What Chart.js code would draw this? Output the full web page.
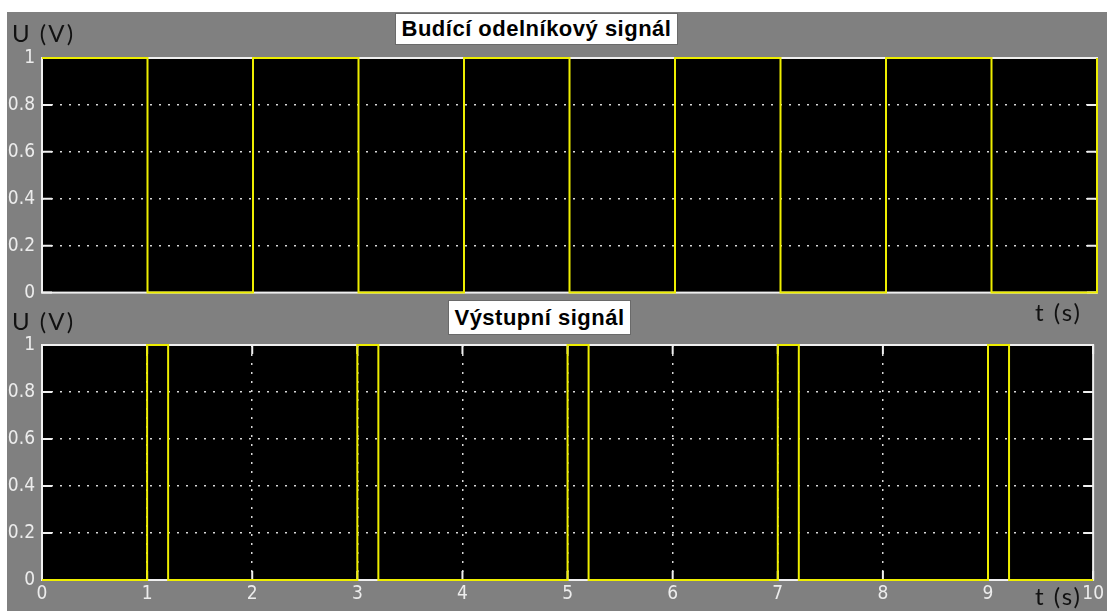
<!DOCTYPE html>
<html>
<head>
<meta charset="utf-8">
<script src="https://cdn.jsdelivr.net/npm/chart.js@4/dist/chart.umd.min.js"></script>
<style>
  html, body { margin: 0; padding: 0; background: #fff; }
  #stage { position: relative; width: 1107px; height: 611px; overflow: hidden; }
  #bg { position: absolute; left: 7px; top: 12px; right: 0; bottom: 0; background: #808080; }
  canvas { position: absolute; left: 0; }
  .lbl { position: absolute; font-family: Lato, 'Open Sans', sans-serif; font-size: 24px; line-height: 24px;
         letter-spacing: 2px; color: #111; white-space: nowrap; }
  .ttl { position: absolute; background: #fff; border: 1px solid #6a6a6a; box-sizing: border-box;
         font-family: 'Liberation Sans', Arial, sans-serif; font-weight: bold; font-size: 22px; letter-spacing: 0.5px;
         color: #000; text-align: center; white-space: nowrap; }
</style>
</head>
<body>
<div id="stage">
  <div id="bg"></div>
  <canvas id="vstup" width="1107" height="311" style="top:0"></canvas>
  <canvas id="vystup" width="1107" height="311" style="top:300px"></canvas>
  <div class="ttl" style="left:395px; top:13px; width:283px; height:32px; line-height:30px;">Budící odelníkový signál</div>
  <div class="ttl" style="left:448px; top:300px; width:183px; height:35px; line-height:33px;">Výstupní signál</div>
  <div class="lbl" style="left:12px; top:21px;">U (V)</div>
  <div class="lbl" style="left:12px; top:309px;">U (V)</div>
  <div class="lbl" style="left:1035px; top:300px;">t (s)</div>
  <div class="lbl" style="left:1035px; top:584px;">t (s)</div>
</div>
<script>
// budici obdelnikovy signal (hodnoty v bodech zmeny, kresleno schodovite)
const vstupT = [0, 1, 2, 3, 4, 5, 6, 7, 8, 9, 10];
const vstupU = [1, 0, 1, 0, 1, 0, 1, 0, 1, 0, 1];

// vystupni signal - kratke pulzy po nabezne hrane
const vystupT = [0, 1, 1.2, 3, 3.2, 5, 5.2, 7, 7.2, 9, 9.2, 10];
const vystupU = [0, 1, 0, 1, 0, 1, 0, 1, 0, 1, 0, 0];

const uTicks = ['0', '0.2', '0.4', '0.6', '0.8', '1'];
const tTicks = ['0', '1', '2', '3', '4', '5', '6', '7', '8', '9', '10'];

const ZLUTA = '#eeee00';
const RAM = '#f0f0f0';
const TEXT = '#ececec';
const tickFont = { family: "'DejaVu Sans Condensed', 'Liberation Sans Narrow', 'DejaVu Sans', sans-serif", size: 19 };

// cerne pozadi grafu, ramecek a kratke znacky dovnitr (jako v matlabu)
const ramecek = {
  id: 'ramecek',
  beforeDraw(chart) {
    const a = chart.chartArea, ctx = chart.ctx;
    ctx.save();
    ctx.fillStyle = '#000';
    ctx.fillRect(a.left, a.top, a.right - a.left, a.bottom - a.top);
    ctx.restore();
  },
  beforeDatasetsDraw(chart, args, opts) {
    const a = chart.chartArea, ctx = chart.ctx;
    ctx.save();
    ctx.strokeStyle = RAM;
    ctx.lineWidth = 2;
    ctx.strokeRect(a.left, a.top, a.right - a.left, a.bottom - a.top);
    ctx.beginPath();
    const y = chart.scales.y;
    y.ticks.forEach(t => {
      const py = y.getPixelForValue(t.value);
      ctx.moveTo(a.left, py); ctx.lineTo(a.left + 10, py);
      ctx.moveTo(a.right, py); ctx.lineTo(a.right - 10, py);
    });
    if (opts.xZnacky) {
      const x = chart.scales.x;
      x.ticks.forEach(t => {
        const px = x.getPixelForValue(t.value);
        ctx.moveTo(px, a.bottom); ctx.lineTo(px, a.bottom - 9);
        ctx.moveTo(px, a.top); ctx.lineTo(px, a.top + 9);
      });
    }
    ctx.stroke();
    ctx.restore();
  }
};

function osaU() {
  return {
    min: 0, max: 1,
    afterFit(scale) { scale.width = 42; },
    ticks: {
      stepSize: 0.2, color: TEXT, font: tickFont, padding: 7,
      callback: (v, i) => uTicks[i]
    },
    grid: {
      drawTicks: false,
      color: ctx => (ctx.tick && (ctx.tick.value === 0 || ctx.tick.value === 1)) ? 'rgba(0,0,0,0)' : '#d8d8d8',
      lineWidth: 1.5
    },
    border: { display: false, dash: [2, 7] }
  };
}

// stepped 'before' = nejdriv vodorovne, pak svisle na novou hodnotu
function signal(ts, us) {
  return {
    data: ts.map((t, i) => ({ x: t, y: us[i] })),
    borderColor: ZLUTA,
    borderWidth: 2,
    stepped: 'before',
    pointRadius: 0,
    clip: 3
  };
}

new Chart(document.getElementById('vstup'), {
  type: 'line',
  data: { datasets: [signal(vstupT, vstupU)] },
  options: {
    responsive: false,
    animation: false,
    devicePixelRatio: 1,
    layout: { padding: { top: 58, right: 10, bottom: 0, left: 0 } },
    plugins: { legend: { display: false }, tooltip: { enabled: false }, ramecek: { xZnacky: false } },
    scales: {
      // horni graf nema popisky casu, osa jen drzi misto dole
      x: {
        type: 'linear', min: 0, max: 10,
        afterFit(scale) { scale.height = 18; },
        ticks: { display: false },
        grid: { display: false },
        border: { display: false }
      },
      y: osaU()
    }
  },
  plugins: [ramecek]
});

new Chart(document.getElementById('vystup'), {
  type: 'line',
  data: { datasets: [signal(vystupT, vystupU)] },
  options: {
    responsive: false,
    animation: false,
    devicePixelRatio: 1,
    layout: { padding: { top: 45, right: 10, bottom: 0, left: 0 } },
    plugins: { legend: { display: false }, tooltip: { enabled: false }, ramecek: { xZnacky: true } },
    scales: {
      x: {
        type: 'linear', min: 0, max: 10,
        afterFit(scale) { scale.height = 31; },
        ticks: {
          stepSize: 1, color: TEXT, font: tickFont, padding: 3, maxRotation: 0,
          callback: (v, i) => tTicks[i]
        },
        grid: {
          drawTicks: false,
          color: ctx => (ctx.tick && (ctx.tick.value === 0 || ctx.tick.value === 10)) ? 'rgba(0,0,0,0)' : '#d8d8d8',
          lineWidth: 1.5
        },
        border: { display: false, dash: [2, 7] }
      },
      y: osaU()
    }
  },
  plugins: [ramecek]
});
</script>
</body>
</html>
